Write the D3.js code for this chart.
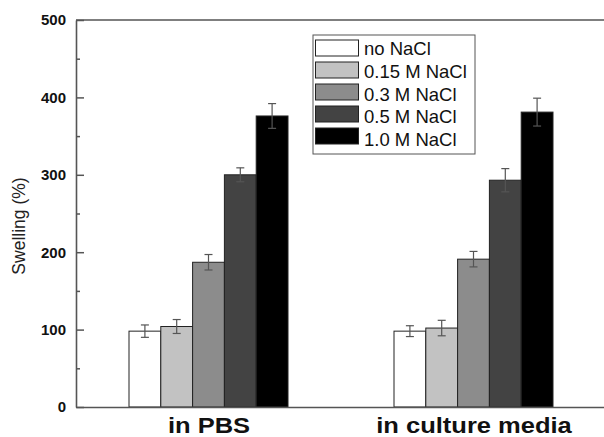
<!DOCTYPE html>
<html><head><meta charset="utf-8">
<script src="https://cdn.jsdelivr.net/npm/d3@7"></script>
<style>body{margin:0;background:#fff}svg{display:block}</style>
</head><body>
<script>
const groups = ["in PBS", "in culture media"];
const series = ["no NaCl", "0.15 M NaCl", "0.3 M NaCl", "0.5 M NaCl", "1.0 M NaCl"];
const pbsValues = [98, 104, 187, 300, 376];
const pbsErrors = [8, 9, 10, 9, 16];
const mediaValues = [98, 102, 191, 293, 381];
const mediaErrors = [7, 10, 10, 15, 18];
const colors = ["#ffffff", "#c2c2c2", "#8c8c8c", "#434343", "#000000"];
const yTicks = [0, 100, 200, 300, 400, 500];
const yMinorTicks = [50, 150, 250, 350, 450];

const W = 604, H = 437;
const FONT = "Arial, 'Liberation Sans', sans-serif";
const svg = d3.select("body").append("svg").attr("width", W).attr("height", H);
const mLeft = 76, mTop = 20, mBottom = 407, mRight = 606;

const y = d3.scaleLinear().domain([0, 500]).range([mBottom, mTop]);
const x0 = d3.scalePoint().domain(groups).range([mLeft, mRight]).padding(0.5);
const x1 = d3.scaleBand().domain(series).range([-79.5, 79.5]);

const data = [
  {g: groups[0], vals: pbsValues, errs: pbsErrors},
  {g: groups[1], vals: mediaValues, errs: mediaErrors}
];

const axisColor = "#555";

// bars
data.forEach(d => {
  const gg = svg.append("g").attr("transform", `translate(${x0(d.g)},0)`);
  series.forEach((s, i) => {
    gg.append("rect")
      .attr("x", x1(s)).attr("y", y(d.vals[i]))
      .attr("width", x1.bandwidth()).attr("height", y(0) - y(d.vals[i]))
      .attr("fill", colors[i]).attr("stroke", "#222").attr("stroke-width", 1);
    const cx = x1(s) + x1.bandwidth() / 2;
    const e = gg.append("g").attr("stroke", "#555").attr("stroke-width", 1.2);
    e.append("line").attr("x1", cx).attr("x2", cx).attr("y1", y(d.vals[i] + d.errs[i])).attr("y2", y(d.vals[i] - d.errs[i]));
    e.append("line").attr("x1", cx - 4).attr("x2", cx + 4).attr("y1", y(d.vals[i] + d.errs[i])).attr("y2", y(d.vals[i] + d.errs[i]));
    e.append("line").attr("x1", cx - 4).attr("x2", cx + 4).attr("y1", y(d.vals[i] - d.errs[i])).attr("y2", y(d.vals[i] - d.errs[i]));
  });
});

// y axis with inward ticks
const yAxis = d3.axisLeft(y).tickValues(yTicks).tickSizeInner(-8).tickSizeOuter(0).tickPadding(10);
const ya = svg.append("g").attr("transform", `translate(${mLeft},0)`).call(yAxis);
ya.select(".domain").attr("stroke", axisColor).attr("stroke-width", 1.6);
ya.selectAll(".tick line").attr("stroke", axisColor).attr("stroke-width", 1.5);
ya.selectAll(".tick text").attr("x", -10).attr("font-family", FONT)
  .attr("font-size", 15).attr("font-weight", "bold").attr("fill", "#111");
const yMinor = d3.axisLeft(y).tickValues(yMinorTicks).tickSizeInner(-4).tickSizeOuter(0).tickFormat("");
const ym = svg.append("g").attr("transform", `translate(${mLeft},0)`).call(yMinor);
ym.select(".domain").remove();
ym.selectAll(".tick line").attr("stroke", axisColor).attr("stroke-width", 1.5);

// x axis
const xAxis = d3.axisBottom(x0).tickSize(0);
const xa = svg.append("g").attr("transform", `translate(0,${mBottom})`).call(xAxis);
xa.select(".domain").attr("stroke", axisColor).attr("stroke-width", 1.6);
xa.selectAll(".tick text").attr("y", 26).attr("dy", 0)
  .attr("transform", "scale(1.16,1)")
  .attr("font-family", FONT)
  .attr("font-size", 22).attr("font-weight", "bold").attr("fill", "#111");

// top frame line
svg.append("line").attr("x1", mLeft).attr("x2", W).attr("y1", mTop).attr("y2", mTop)
  .attr("stroke", axisColor).attr("stroke-width", 1.6);

// y label
svg.append("text").attr("transform", `translate(25,226) rotate(-90)`)
  .attr("text-anchor", "middle").attr("font-family", FONT)
  .attr("font-size", 17.5).attr("fill", "#222").text("Swelling (%)");

// legend
const lg = svg.append("g");
lg.append("rect").attr("x", 313).attr("y", 35).attr("width", 162).attr("height", 119)
  .attr("fill", "#fff").attr("stroke", "#555").attr("stroke-width", 1);
series.forEach((s, i) => {
  lg.append("rect").attr("x", 315.5).attr("y", 40 + i * 22).attr("width", 43).attr("height", 16)
    .attr("fill", colors[i]).attr("stroke", "#222").attr("stroke-width", 1);
  lg.append("text").attr("x", 364).attr("y", 55 + i * 22.8)
    .attr("font-family", FONT).attr("font-size", 18.5)
    .attr("fill", "#111").text(s);
});
</script>
</body></html>
